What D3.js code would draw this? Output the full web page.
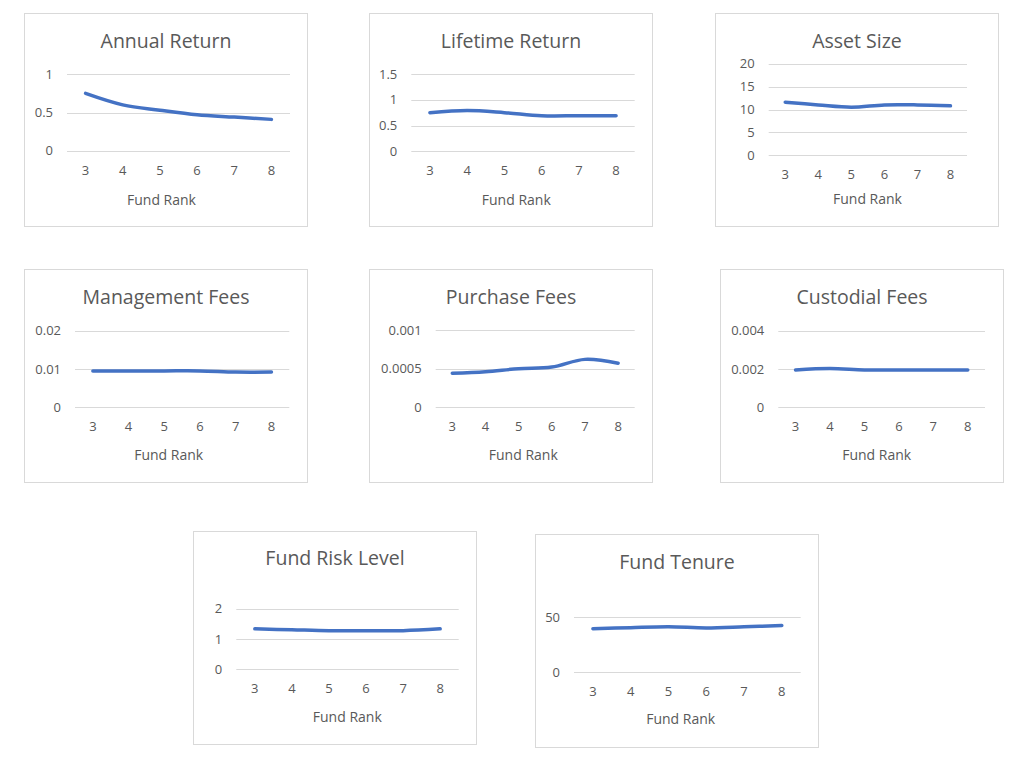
<!DOCTYPE html>
<html>
<head>
<meta charset="utf-8">
<script src="https://cdn.jsdelivr.net/npm/d3@7"></script>
<style>
  html, body { margin: 0; padding: 0; background: #ffffff; }
  svg { display: block; }
  text { font-family: "Open Sans", "Noto Sans", sans-serif; fill: #595959; }
</style>
</head>
<body>
<svg id="chart" width="1027" height="767"></svg>
<script>
// ---------- DATA ----------
const ranks = ["3", "4", "5", "6", "7", "8"];
const xAxisTitle = "Fund Rank";

const titles = ["Annual Return", "Lifetime Return", "Asset Size", "Management Fees",
                "Purchase Fees", "Custodial Fees", "Fund Risk Level", "Fund Tenure"];

const annualReturn   = [0.75, 0.60, 0.53, 0.47, 0.44, 0.41];
const lifetimeReturn = [0.75, 0.79, 0.75, 0.69, 0.69, 0.69];
const assetSize      = [11.6, 11.0, 10.5, 11.0, 11.0, 10.8];
const managementFees = [0.0095, 0.0095, 0.0095, 0.0095, 0.0092, 0.0092];
const purchaseFees   = [0.00044, 0.00046, 0.00050, 0.00052, 0.00062, 0.00057];
const custodialFees  = [0.00195, 0.00202, 0.00195, 0.00195, 0.00195, 0.00195];
const fundRiskLevel  = [1.33, 1.30, 1.27, 1.27, 1.27, 1.33];
const fundTenure     = [39.5, 40.5, 41.3, 40.3, 41.3, 42.5];

const annualReturnTicks   = [0, 0.5, 1];
const lifetimeReturnTicks = [0, 0.5, 1, 1.5];
const assetSizeTicks      = [0, 5, 10, 15, 20];
const managementFeesTicks = [0, 0.01, 0.02];
const purchaseFeesTicks   = [0, 0.0005, 0.001];
const custodialFeesTicks  = [0, 0.002, 0.004];
const fundRiskLevelTicks  = [0, 1, 2];
const fundTenureTicks     = [0, 50];

const seriesList = [annualReturn, lifetimeReturn, assetSize, managementFees,
                    purchaseFees, custodialFees, fundRiskLevel, fundTenure];
const tickList = [annualReturnTicks, lifetimeReturnTicks, assetSizeTicks, managementFeesTicks,
                  purchaseFeesTicks, custodialFeesTicks, fundRiskLevelTicks, fundTenureTicks];

// ---------- LAYOUT (positions only) ----------
const layout = [
  { bx: 24,  by: 13,  pl: 67,    pr: 290,   yt: 74.3,  y0: 150.7, ty: 48,    tk: 174.7, ay: 204.7, ax: 161.5 },
  { bx: 369, by: 13,  pl: 411.3, pr: 634.7, yt: 74,    y0: 151.3, ty: 48,    tk: 174.7, ay: 204.7, ax: 516.3 },
  { bx: 715, by: 13,  pl: 768.7, pr: 967,   yt: 63.7,  y0: 155.3, ty: 48,    tk: 179.2, ay: 204.3, ax: 867.5 },
  { bx: 24,  by: 269, pl: 75,    pr: 289.3, yt: 330.7, y0: 407.3, ty: 304,   tk: 430.7, ay: 459.5, ax: 168.7 },
  { bx: 369, by: 269, pl: 435.7, pr: 634.7, yt: 330,   y0: 407.3, ty: 304,   tk: 431,   ay: 459.8, ax: 523.3 },
  { bx: 720, by: 269, pl: 778.3, pr: 985,   yt: 330.7, y0: 407.3, ty: 304,   tk: 430.7, ay: 459.5, ax: 876.7 },
  { bx: 193, by: 531, pl: 236.3, pr: 458.7, yt: 608.5, y0: 669.3, ty: 565,   tk: 692.7, ay: 722.3, ax: 347.3 },
  { bx: 535, by: 534, pl: 574,   pr: 800.7, yt: 617.3, y0: 672,   ty: 568.7, tk: 696,   ay: 724.3, ax: 680.7 }
];
const labelGap = 14;
const boxW = 283, boxH = 213;
const lineColor = "#4472C4";
const gridColor = "#D9D9D9";

const svg = d3.select("#chart");

seriesList.forEach((values, i) => {
  const L = layout[i];
  const ticks = tickList[i];
  const g = svg.append("g");

  // chart border
  g.append("rect")
    .attr("x", L.bx + 0.5).attr("y", L.by + 0.5)
    .attr("width", boxW).attr("height", boxH)
    .attr("fill", "#ffffff").attr("stroke", gridColor).attr("stroke-width", 1);

  // title
  g.append("text")
    .attr("x", L.bx + boxW / 2 + 0.5).attr("y", L.ty)
    .attr("text-anchor", "middle")
    .style("font-size", "19.5px")
    .text(titles[i]);

  const x = d3.scaleBand().domain(ranks).range([L.pl, L.pr]).paddingInner(0).paddingOuter(0);
  const y = d3.scaleLinear().domain([0, d3.max(ticks)]).range([L.y0, L.yt]);

  // gridlines
  g.append("g").selectAll("line").data(ticks).join("line")
    .attr("x1", L.pl).attr("x2", L.pr)
    .attr("y1", d => Math.round(y(d)) + 0.5).attr("y2", d => Math.round(y(d)) + 0.5)
    .attr("stroke", gridColor).attr("stroke-width", 1);

  // y axis labels
  const yAxis = d3.axisLeft(y).tickValues(ticks).tickSize(0).tickPadding(0)
    .tickFormat(d => String(d));
  const yg = g.append("g").attr("transform", `translate(${L.pl - labelGap},0)`).call(yAxis);
  yg.select(".domain").remove();
  yg.selectAll("text").style("font-size", "13px").attr("fill", "#595959")
    .style("font-family", '"Open Sans", sans-serif');

  // x axis labels
  const xAxis = d3.axisBottom(x).tickSize(0).tickPadding(0);
  const xg = g.append("g").attr("transform", `translate(0,${L.tk})`).call(xAxis);
  xg.select(".domain").remove();
  xg.selectAll("text").style("font-size", "13px").attr("fill", "#595959")
    .attr("dy", 0).attr("y", 0)
    .style("font-family", '"Open Sans", sans-serif');

  // axis title
  g.append("text")
    .attr("x", L.ax).attr("y", L.ay)
    .attr("text-anchor", "middle")
    .style("font-size", "14px")
    .text(xAxisTitle);

  // line
  const line = d3.line()
    .x((d, j) => x(ranks[j]) + x.bandwidth() / 2)
    .y(d => y(d))
    .curve(d3.curveCatmullRom.alpha(0.5));
  g.append("path")
    .datum(values)
    .attr("d", line)
    .attr("fill", "none")
    .attr("stroke", lineColor)
    .attr("stroke-width", 3.5)
    .attr("stroke-linecap", "round")
    .attr("stroke-linejoin", "round");
});
</script>
</body>
</html>
